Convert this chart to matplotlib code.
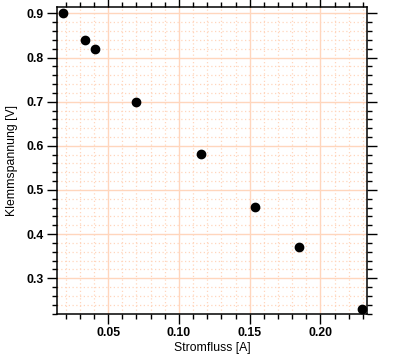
import matplotlib
matplotlib.use("Agg")
import matplotlib.pyplot as plt
from matplotlib.ticker import MultipleLocator

# measured data
strom = [0.0183, 0.0338, 0.0408, 0.0695, 0.1158, 0.1535, 0.1850, 0.2296]
spannung = [0.900, 0.839, 0.820, 0.700, 0.581, 0.461, 0.370, 0.230]

plt.rcParams['font.family'] = ['Liberation Sans', 'DejaVu Sans']

fig = plt.figure(figsize=(3.95, 3.56), dpi=100)
ax = fig.add_axes([0.145, 0.118, 0.785, 0.862])

grid_col = '#ffd6bd'
ax.xaxis.set_major_locator(MultipleLocator(0.05))
ax.xaxis.set_minor_locator(MultipleLocator(0.01))
ax.yaxis.set_major_locator(MultipleLocator(0.1))
ax.yaxis.set_minor_locator(MultipleLocator(0.02))
ax.grid(True, which='major', color=grid_col, lw=1.0, ls='-')
ax.grid(True, which='minor', color=grid_col, lw=0.9, ls=(0, (1, 2)))
ax.set_axisbelow(True)

ax.plot(strom, spannung, 'o', color='black', ms=6, zorder=3)

ax.set_xlim(0.0141, 0.2331)
ax.set_ylim(0.2189, 0.9143)
ax.xaxis.set_major_formatter(plt.FuncFormatter(lambda v, p: f"{v:.2f}"))
ax.yaxis.set_major_formatter(plt.FuncFormatter(lambda v, p: f"{v:.1f}"))

ax.tick_params(which='both', direction='out', top=True, right=True, width=1.0,
               labelsize=8.8, color='black')
ax.tick_params(which='major', length=7, pad=2.5)
ax.tick_params(which='minor', length=3.5)
for lab in ax.get_xticklabels() + ax.get_yticklabels():
    lab.set_fontweight('bold')
for s in ax.spines.values():
    s.set_linewidth(1.1)

ax.set_xlabel("Stromfluss [A]", fontsize=8.8, labelpad=2)
ax.set_ylabel("Klemmspannung [V]", fontsize=8.8, labelpad=6)

fig.savefig("out.png", dpi=100)
